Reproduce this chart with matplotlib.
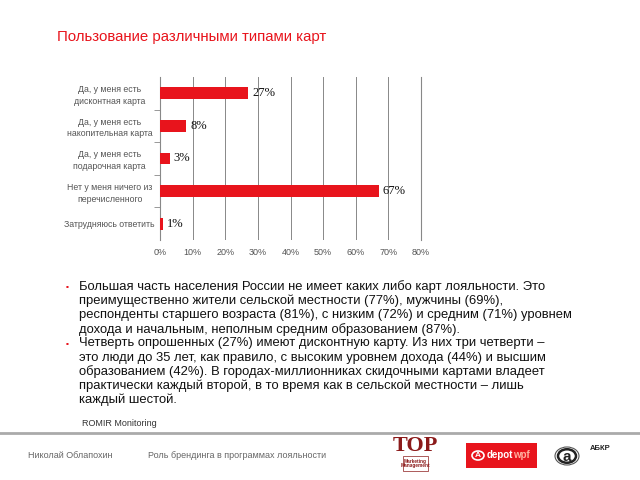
import matplotlib.pyplot as plt
import matplotlib.patches as mpatches
import numpy as np

categories = [
    "Да, у меня есть\nдисконтная карта",
    "Да, у меня есть\nнакопительная карта",
    "Да, у меня есть\nподарочная карта",
    "Нет у меня ничего из\nперечисленного",
    "Затрудняюсь ответить",
]
values = [27, 8, 3, 67, 1]
x_ticks = [0, 10, 20, 30, 40, 50, 60, 70, 80]

title = "Пользование различными типами карт"
bullets = [
    ["Большая часть населения России не имеет каких либо карт лояльности. Это",
     "преимущественно жители сельской местности (77%), мужчины (69%),",
     "респонденты старшего возраста (81%), с низким (72%) и средним (71%) уровнем",
     "дохода и начальным, неполным средним образованием (87%)."],
    ["Четверть опрошенных (27%) имеют дисконтную карту. Из них три четверти –",
     "это люди до 35 лет, как правило, с высоким уровнем дохода (44%) и высшим",
     "образованием (42%). В городах-миллионниках скидочными картами владеет",
     "практически каждый второй, в то время как в сельской местности – лишь",
     "каждый шестой."],
]
source = "ROMIR Monitoring"
author = "Николай Облапохин"
talk = "Роль брендинга в программах лояльности"

RED = "#e8141c"
plt.rcParams["font.family"] = ["Liberation Sans", "DejaVu Sans"]

fig = plt.figure(figsize=(6.4, 4.8), dpi=100)
W, H = 640, 480


def fx(px):
    return px / W


def fy(py):
    return 1 - py / H


# ---- chart ----
ax = fig.add_axes([fx(160), fy(240), fx(421) - fx(160), (240 - 77) / H])
y = np.arange(len(categories))
ax.barh(y, values, height=0.36, color=RED, zorder=3)
for yi, v in zip(y, values):
    ax.text(v + 1.2, yi, f"{v}%", va="center", ha="left", fontsize=9,
            family=["Liberation Serif", "DejaVu Serif"], color="#111")

ax.set_xlim(0, 80)
ax.set_ylim(len(categories) - 0.5, -0.5)
ax.set_xticks(x_ticks)
ax.set_xticklabels([f"{t}%" for t in x_ticks], fontsize=6.5, color="#555")
ax.tick_params(axis="x", length=0, pad=6)
ax.grid(axis="x", color="#888", lw=0.7, zorder=0)

ax.set_yticks(y)
ax.set_yticklabels(categories, fontsize=6.3, color="#555", linespacing=1.35)
ax.tick_params(axis="y", length=0, pad=8)
ax.set_yticks(np.arange(len(categories) - 1) + 0.5, minor=True)
ax.tick_params(axis="y", which="minor", length=4, color="#888")
for lbl in ax.get_yticklabels():
    lbl.set_horizontalalignment("center")
    lbl.set_x(-0.15)

for s in ["top", "bottom"]:
    ax.spines[s].set_visible(False)
ax.spines["left"].set_color("#888")
ax.spines["right"].set_color("#888")
ax.spines["left"].set_linewidth(0.8)
ax.spines["right"].set_linewidth(0.8)

# ---- title ----
fig.text(fx(57), fy(37), title, color=RED, fontsize=10.8, va="center", ha="left")

# ---- bullet text ----
line_h = 14.1
yy = 287
for b in bullets:
    fig.text(fx(66), fy(yy), "▪", color=RED, fontsize=6, va="center", ha="left")
    for line in b:
        fig.text(fx(79), fy(yy), line, fontsize=9.4, color="#111",
                 va="center", ha="left")
        yy += line_h

fig.text(fx(82), fy(423), source, fontsize=6.5, color="#333", va="center")

# ---- footer ----
fig.add_artist(plt.Line2D([0, 1], [fy(433), fy(433)], color="#aaaaaa", lw=2,
                          transform=fig.transFigure))
fig.text(fx(28), fy(455), author, fontsize=6.5, color="#666", va="center")
fig.text(fx(148), fy(455), talk, fontsize=6.5, color="#666", va="center")

# logos
fig.text(fx(415.5), fy(446), "TOP", fontsize=16, weight="bold", color="#8b1a1a",
         family=["Liberation Serif", "DejaVu Serif"], ha="center", va="center")
fig.add_artist(mpatches.Rectangle((fx(403), fy(471)), fx(25), (471 - 456) / H,
                                  transform=fig.transFigure, fill=False,
                                  ec="#8b1a1a", lw=0.5))
fig.text(fx(415.5), fy(463.5), "Marketing\nManagement", fontsize=3.4, weight="bold",
         color="#8b1a1a", ha="center", va="center", linespacing=1.0)

fig.add_artist(mpatches.Rectangle((fx(466), fy(468)), fx(71), (468 - 443) / H,
                                  transform=fig.transFigure, color=RED, lw=0))
fig.add_artist(mpatches.Circle((fx(478), fy(455.5)), 6 / W, transform=fig.transFigure,
                               fill=False, ec="white", lw=1.2))
fig.text(fx(478), fy(455.5), "A", fontsize=6, weight="bold", color="white",
         ha="center", va="center")
fig.text(fx(487), fy(455.5), "depot", fontsize=7, weight="bold", color="white",
         ha="left", va="center")
fig.text(fx(513), fy(455.5), "wpf", fontsize=7, weight="bold", color="#ffb0a0",
         ha="left", va="center")

fig.add_artist(mpatches.Circle((fx(567), fy(456)), 12 / W, transform=fig.transFigure,
                               fill=False, ec="#555", lw=0.8))
fig.add_artist(mpatches.Circle((fx(567), fy(456)), 9 / W, transform=fig.transFigure,
                               fill=False, ec="#222", lw=1.8))
fig.text(fx(567), fy(457), "а", fontsize=11, weight="bold", color="#222",
         ha="center", va="center")
fig.text(fx(590), fy(449), "АБКР", fontsize=5.5, weight="bold", color="#222",
         ha="left", va="center")

fig.savefig("out.png", dpi=100)
